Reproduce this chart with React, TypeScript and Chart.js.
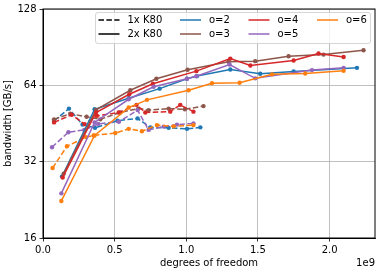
import { useEffect, useRef } from "react";
import { Chart, registerables } from "chart.js";

Chart.register(...registerables);

const FONT_FAMILY = '"DejaVu Sans", "Liberation Sans", sans-serif';

const X_TICKS = [0, 0.5, 1.0, 1.5, 2.0];
const Y_TICKS = [16, 32, 64, 128];

// degrees of freedom in units of 1e9, bandwidth in GB/s
// 1x K80 (dashed)
const DOF_O2_1X = [0.077, 0.181, 0.276, 0.363, 0.52, 0.66, 0.75, 0.877, 1.005, 1.098];
const BW_O2_1X = [46.3, 51.8, 44.8, 43.5, 46.4, 47.4, 43.7, 43.5, 43.1, 43.7];
const DOF_O3_1X = [0.077, 0.19, 0.304, 0.4, 0.537, 0.665, 0.737, 0.877, 0.99, 1.12];
const BW_O3_1X = [47.0, 49.5, 48.1, 47.0, 50.0, 51.8, 51.1, 51.8, 51.5, 53.0];
const DOF_O4_1X = [0.077, 0.2, 0.29, 0.377, 0.528, 0.653, 0.714, 0.888, 0.958, 1.05];
const BW_O4_1X = [45.7, 49.0, 45.0, 48.5, 50.0, 53.6, 50.0, 50.4, 53.6, 50.4];
const DOF_O5_1X = [0.063, 0.177, 0.288, 0.386, 0.53, 0.66, 0.737, 0.842, 0.935, 1.05];
const BW_O5_1X = [36.5, 41.8, 42.7, 45.1, 46.0, 51.1, 42.7, 44.0, 44.8, 45.3];
const DOF_O6_1X = [0.067, 0.167, 0.3, 0.353, 0.505, 0.598, 0.69, 0.795, 0.912, 1.05];
const BW_O6_1X = [30.2, 36.8, 40.0, 40.6, 41.5, 43.1, 42.2, 44.6, 44.1, 44.6];

// 2x K80 (solid)
const DOF_O2_2X = [0.133, 0.36, 0.598, 0.814, 1.005, 1.075, 1.307, 1.516, 1.749, 2.191];
const BW_O2_2X = [28.0, 51.5, 56.9, 62.1, 67.9, 69.6, 73.9, 71.1, 72.6, 75.0];
const DOF_O3_2X = [0.144, 0.37, 0.609, 0.791, 1.009, 1.295, 1.481, 1.714, 1.958, 2.237];
const BW_O3_2X = [28.7, 51.2, 61.2, 67.9, 73.7, 79.2, 79.7, 83.4, 84.6, 88.0];
const DOF_O4_2X = [0.137, 0.37, 0.602, 0.767, 1.07, 1.307, 1.447, 1.749, 1.923, 2.098];
const BW_O4_2X = [27.7, 50.0, 59.0, 64.9, 72.8, 81.6, 76.6, 80.2, 85.4, 82.8];
const DOF_O5_2X = [0.128, 0.36, 0.598, 0.772, 1.005, 1.07, 1.302, 1.481, 1.877, 2.098];
const BW_O5_2X = [24.0, 45.7, 56.4, 63.2, 67.9, 69.5, 77.3, 68.2, 73.5, 75.0];
const DOF_O6_2X = [0.128, 0.36, 0.598, 0.726, 1.016, 1.179, 1.372, 1.598, 1.83, 2.098];
const BW_O6_2X = [22.4, 40.6, 52.3, 56.1, 61.2, 65.2, 65.5, 70.7, 71.3, 73.0];

const ORDER_LABELS = ["o=2", "o=3", "o=4", "o=5", "o=6"];
const ORDER_COLORS = ["#1f77b4", "#8c564b", "#d62728", "#9467bd", "#ff7f0e"];
const RUN_LABELS = ["1x K80", "2x K80"];

const SERIES_1X = [
  [DOF_O2_1X, BW_O2_1X],
  [DOF_O3_1X, BW_O3_1X],
  [DOF_O4_1X, BW_O4_1X],
  [DOF_O5_1X, BW_O5_1X],
  [DOF_O6_1X, BW_O6_1X],
];
const SERIES_2X = [
  [DOF_O2_2X, BW_O2_2X],
  [DOF_O3_2X, BW_O3_2X],
  [DOF_O4_2X, BW_O4_2X],
  [DOF_O5_2X, BW_O5_2X],
  [DOF_O6_2X, BW_O6_2X],
];

const DASH = [5.5, 2.4];

function makeDataset(label: string, xs: number[], ys: number[], color: string, dashed: boolean) {
  return {
    label,
    data: xs.map((x, i) => ({ x, y: ys[i] })),
    borderColor: color,
    backgroundColor: color,
    borderWidth: 1.5,
    borderDash: dashed ? DASH : [],
    pointRadius: 2.2,
    pointHoverRadius: 2.2,
    pointBorderWidth: 0,
    pointBackgroundColor: color,
    fill: false,
    tension: 0,
  };
}

const framePlugin = {
  id: "frame",
  afterDatasetsDraw(chart: any) {
    const { ctx, chartArea } = chart;
    ctx.save();
    ctx.strokeStyle = "#000";
    ctx.lineWidth = 1;
    ctx.strokeRect(chartArea.left, chartArea.top, chartArea.right - chartArea.left, chartArea.bottom - chartArea.top);
    ctx.restore();
  },
  afterDraw(chart: any) {
    const { ctx, chartArea } = chart;
    ctx.save();
    ctx.fillStyle = "#000";
    ctx.font = `10px ${FONT_FAMILY}`;
    ctx.textAlign = "right";
    ctx.textBaseline = "middle";
    ctx.fillText("1e9", chartArea.right, 263);
    ctx.restore();
  },
};

const legendPlugin = {
  id: "gridLegend",
  afterDraw(chart: any) {
    const { ctx } = chart;
    const bx = 95.5, by = 12.5, bw = 275, bh = 31, r = 2.5;
    ctx.save();
    ctx.beginPath();
    ctx.moveTo(bx + r, by);
    ctx.lineTo(bx + bw - r, by);
    ctx.quadraticCurveTo(bx + bw, by, bx + bw, by + r);
    ctx.lineTo(bx + bw, by + bh - r);
    ctx.quadraticCurveTo(bx + bw, by + bh, bx + bw - r, by + bh);
    ctx.lineTo(bx + r, by + bh);
    ctx.quadraticCurveTo(bx, by + bh, bx, by + bh - r);
    ctx.lineTo(bx, by + r);
    ctx.quadraticCurveTo(bx, by, bx + r, by);
    ctx.closePath();
    ctx.fillStyle = "rgba(255,255,255,0.8)";
    ctx.fill();
    ctx.strokeStyle = "#cccccc";
    ctx.lineWidth = 0.8;
    ctx.stroke();

    const items: { label: string; color: string; dashed: boolean }[] = [
      { label: RUN_LABELS[0], color: "#000", dashed: true },
      { label: RUN_LABELS[1], color: "#000", dashed: false },
      ...ORDER_LABELS.map((l, i) => ({ label: l, color: ORDER_COLORS[i], dashed: false })),
    ];
    const colX = [98.5, 180, 248.5, 317];
    const rowY = [20, 34];
    ctx.font = `10px ${FONT_FAMILY}`;
    ctx.textBaseline = "middle";
    ctx.textAlign = "left";
    items.forEach((it, idx) => {
      const c = Math.floor(idx / 2);
      const rr = idx % 2;
      const x = colX[c];
      const y = rowY[rr];
      ctx.beginPath();
      ctx.setLineDash(it.dashed ? DASH : []);
      ctx.strokeStyle = it.color;
      ctx.lineWidth = 1.5;
      ctx.moveTo(x, y);
      ctx.lineTo(x + 21, y);
      ctx.stroke();
      ctx.setLineDash([]);
      ctx.fillStyle = "#000";
      ctx.fillText(it.label, x + 29, y + 0.5);
    });
    ctx.restore();
  },
};

export default function App() {
  const ref = useRef<HTMLCanvasElement | null>(null);

  useEffect(() => {
    if (!ref.current) return;
    const datasets: any[] = [];
    SERIES_1X.forEach(([xs, ys], i) => {
      datasets.push(makeDataset(`${RUN_LABELS[0]} ${ORDER_LABELS[i]}`, xs, ys, ORDER_COLORS[i], true));
    });
    SERIES_2X.forEach(([xs, ys], i) => {
      datasets.push(makeDataset(`${RUN_LABELS[1]} ${ORDER_LABELS[i]}`, xs, ys, ORDER_COLORS[i], false));
    });
    // Chart.js draws the first dataset on top; reverse so later series sit on top
    datasets.reverse();

    const font = { family: FONT_FAMILY, size: 10 };
    const chart = new Chart(ref.current, {
      type: "line",
      data: { datasets },
      plugins: [framePlugin, legendPlugin],
      options: {
        animation: false,
        responsive: false,
        maintainAspectRatio: false,
        devicePixelRatio: 1,
        layout: { padding: { top: 7, right: 7, left: 0, bottom: 0 } },
        plugins: { legend: { display: false }, tooltip: { enabled: false } },
        scales: {
          x: {
            type: "linear",
            min: 0,
            max: 2.317,
            afterBuildTicks: (s: any) => {
              s.ticks = X_TICKS.map((v) => ({ value: v }));
            },
            afterFit: (s: any) => {
              s.height = 34;
            },
            ticks: {
              callback: (v: any) => Number(v).toFixed(1),
              color: "#000",
              font,
              padding: 3,
              maxRotation: 0,
              autoSkip: false,
            },
            grid: { color: "#b0b0b0", lineWidth: 0.8, tickColor: "#000", tickLength: 3.5, tickWidth: 0.8 },
            border: { color: "#000", width: 1 },
            title: { display: true, text: "degrees of freedom", color: "#000", font, padding: { top: 0, bottom: 2.7 } },
          },
          y: {
            type: "logarithmic",
            min: 16,
            max: 128,
            afterBuildTicks: (s: any) => {
              s.ticks = Y_TICKS.map((v) => ({ value: v }));
            },
            afterFit: (s: any) => {
              s.width = 43;
            },
            ticks: {
              callback: (v: any) => String(v),
              color: "#000",
              font,
              padding: 3,
              autoSkip: false,
            },
            grid: { color: "#b0b0b0", lineWidth: 0.8, tickColor: "#000", tickLength: 3.5, tickWidth: 0.8 },
            border: { color: "#000", width: 1 },
            title: { display: true, text: "bandwidth [GB/s]", color: "#000", font, padding: { top: 2.5, bottom: 0 } },
          },
        },
      } as any,
    });
    return () => chart.destroy();
  }, []);

  return (
    <div style={{ position: "fixed", left: 0, top: 0, width: 382, height: 272, background: "#fff" }}>
      <canvas ref={ref} width={382} height={272} style={{ display: "block", width: 382, height: 272 }} />
    </div>
  );
}
